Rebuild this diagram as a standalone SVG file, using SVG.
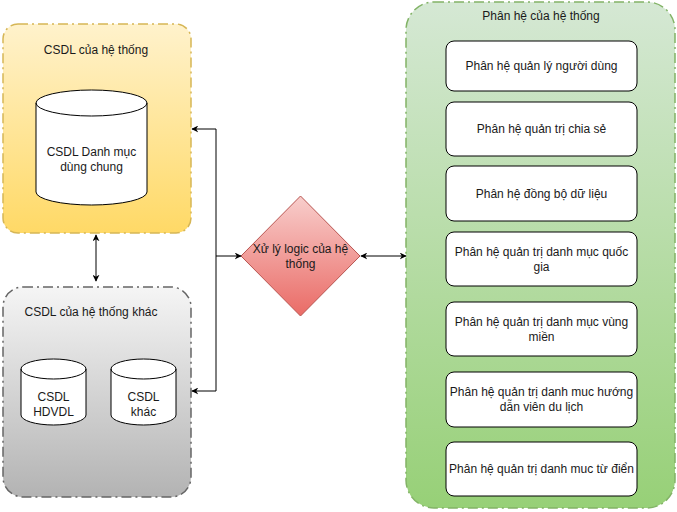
<svg xmlns="http://www.w3.org/2000/svg" width="677" height="512" viewBox="0 0 677 512">
<style>
text{font-family:"Liberation Sans",Arial,sans-serif;font-size:12px;fill:#1a1a1a;text-anchor:middle}
.cont{stroke-width:1.5;stroke-dasharray:10 4 2 4}
.box{fill:#fff;stroke:#000;stroke-width:1}
.cyl{fill:#fff;stroke:#000;stroke-width:1}
.edge{fill:none;stroke:#000;stroke-width:1}
</style>
<defs>
<linearGradient id="gY" x1="0" y1="0" x2="0" y2="1"><stop offset="0" stop-color="#fff2cc"/><stop offset="1" stop-color="#ffd966"/></linearGradient>
<linearGradient id="gG" x1="0" y1="0" x2="0" y2="1"><stop offset="0" stop-color="#f5f5f5"/><stop offset="1" stop-color="#b3b3b3"/></linearGradient>
<linearGradient id="gN" x1="0" y1="0" x2="0" y2="1"><stop offset="0" stop-color="#d5e8d4"/><stop offset="1" stop-color="#97d077"/></linearGradient>
<linearGradient id="gR" x1="0" y1="0" x2="0" y2="1"><stop offset="0" stop-color="#f8cecc"/><stop offset="1" stop-color="#ea6b66"/></linearGradient>
<marker id="ah" viewBox="0 0 10 10" refX="9" refY="5" markerWidth="7" markerHeight="7" orient="auto-start-reverse" markerUnits="userSpaceOnUse"><path d="M0,0 L10,5 L0,10 L3,5 Z" fill="#000"/></marker>
</defs>

<g id="csdl-he-thong">
<rect x="3" y="24" width="188" height="209" rx="15" fill="url(#gY)" stroke="#d6b656" class="cont"/>
<text x="96" y="54">CSDL của hệ thống</text>
</g>
<g id="csdl-danh-muc">
<path class="cyl" d="M36,103 A55.5,13 0 0 1 147,103 L147,192 A55.5,13 0 0 1 36,192 Z"/>
<path class="edge" d="M36,103 A55.5,13 0 0 0 147,103"/>
<text x="91.5" y="156">CSDL Danh mục</text>
<text x="91.5" y="171">dùng chung</text>
</g>

<g id="csdl-khac-container">
<rect x="3" y="287" width="188" height="210" rx="20" fill="url(#gG)" stroke="#666666" class="cont"/>
<text x="91" y="316">CSDL của hệ thống khác</text>
</g>
<g id="csdl-hdvdl">
<path class="cyl" d="M21,369 A32.5,10 0 0 1 86,369 L86,415 A32.5,10 0 0 1 21,415 Z"/>
<path class="edge" d="M21,369 A32.5,10 0 0 0 86,369"/>
<text x="53.5" y="401">CSDL</text>
<text x="53.5" y="416">HDVDL</text>
</g>
<g id="csdl-khac">
<path class="cyl" d="M111,369 A32.5,10 0 0 1 176,369 L176,415 A32.5,10 0 0 1 111,415 Z"/>
<path class="edge" d="M111,369 A32.5,10 0 0 0 176,369"/>
<text x="143.5" y="401">CSDL</text>
<text x="143.5" y="416">khác</text>
</g>

<g id="xu-ly-logic">
<polygon points="300.5,196 360,256 300.5,316 241,256" fill="url(#gR)" stroke="#b85450" stroke-width="1"/>
<text x="300.5" y="253">Xử lý logic của hệ</text>
<text x="300.5" y="268">thống</text>
</g>

<g id="phan-he-container">
<rect x="406" y="2" width="269" height="506" rx="28" fill="url(#gN)" stroke="#82b366" class="cont"/>
<text x="541" y="20">Phân hệ của hệ thống</text>
</g>
<g id="ph1"><rect class="box" x="446" y="41" width="191" height="50" rx="8"/><text x="541.5" y="70">Phân hệ quản lý người dùng</text></g>
<g id="ph2"><rect class="box" x="446" y="102" width="191" height="54" rx="8"/><text x="541.5" y="133">Phân hệ quản trị chia sẻ</text></g>
<g id="ph3"><rect class="box" x="446" y="166" width="191" height="55" rx="8"/><text x="541.5" y="198">Phân hệ đồng bộ dữ liệu</text></g>
<g id="ph4"><rect class="box" x="446" y="232" width="191" height="54" rx="8"/><text x="541.5" y="256">Phân hệ quản trị danh mục quốc</text><text x="541.5" y="271">gia</text></g>
<g id="ph5"><rect class="box" x="446" y="302" width="191" height="54" rx="8"/><text x="541.5" y="326">Phân hệ quản trị danh mục vùng</text><text x="541.5" y="341">miền</text></g>
<g id="ph6"><rect class="box" x="446" y="372" width="191" height="55" rx="8"/><text x="541.5" y="396">Phân hệ quản trị danh muc hướng</text><text x="541.5" y="411">dẫn viên du lịch</text></g>
<g id="ph7"><rect class="box" x="446" y="442" width="191" height="54" rx="8"/><text x="541.5" y="473">Phân hệ quản trị danh muc từ điển</text></g>

<g id="connectors">
<path class="edge" d="M96,235 L96,281" marker-start="url(#ah)" marker-end="url(#ah)"/>
<path class="edge" d="M192,129 L216,129 L216,391 L192,391" marker-start="url(#ah)" marker-end="url(#ah)"/>
<path class="edge" d="M216,256 L241,256" marker-end="url(#ah)"/>
<path class="edge" d="M361,256 L406,256" marker-start="url(#ah)" marker-end="url(#ah)"/>
</g>
</svg>
